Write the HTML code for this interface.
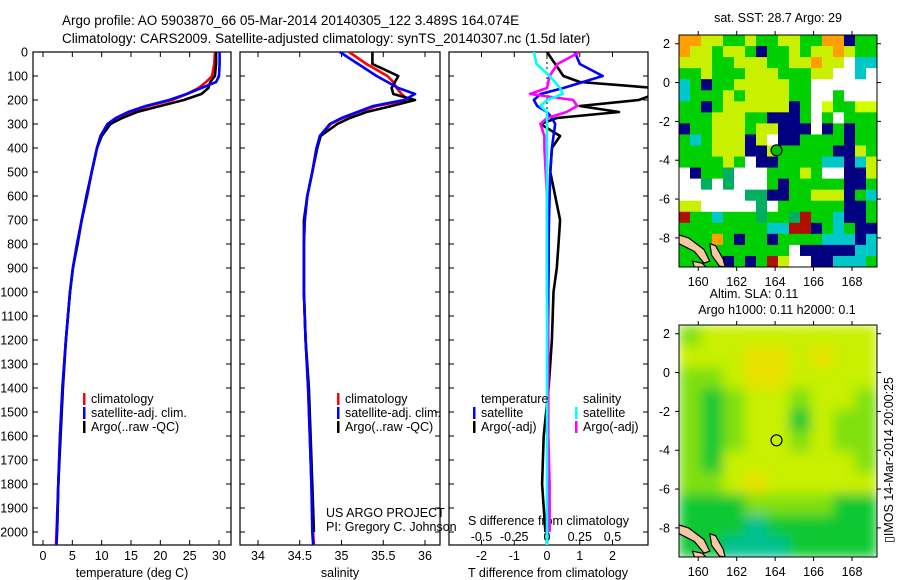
<!DOCTYPE html>
<html><head><meta charset="utf-8">
<style>
html,body{margin:0;padding:0;background:#fff;}
svg{display:block;font-family:"Liberation Sans",sans-serif;}
text{fill:#000;}
</style></head>
<body>
<svg id="fig" width="900" height="580" viewBox="0 0 900 580" xmlns="http://www.w3.org/2000/svg">
<defs><filter id="blur" x="0" y="0" width="1" height="1"><feGaussianBlur stdDeviation="6" edgeMode="duplicate"/></filter>
<clipPath id="clipP3"><rect x="449" y="52" width="199" height="493"/></clipPath>
<clipPath id="clipM1"><rect x="679" y="35" width="198" height="232"/></clipPath>
<clipPath id="clipM2"><rect x="679" y="325" width="198" height="232"/></clipPath>
</defs>
<text x="62" y="25" font-size="13.5">Argo profile: AO 5903870_66 05-Mar-2014 20140305_122 3.489S 164.074E</text>
<text x="62" y="43" font-size="13.5">Climatology: CARS2009. Satellite-adjusted climatology: synTS_20140307.nc (1.5d later)</text>
</svg>
<script>
// ---------- data ----------
const depths = [0,50,100,125,150,175,200,225,250,275,300,350,400,500,600,700,800,900,1000,1200,1400,1600,1800,2000,2054];
const tempClim = [29.3,29.2,28.8,27.8,26.5,24.5,22,18,14.8,12.6,11,9.8,9.2,8.3,7.5,6.6,5.8,5.1,4.6,3.9,3.3,2.9,2.6,2.3,2.2];
const tempSat = [30.1,30.1,30.0,29.5,27,24.5,21.5,17.5,14.5,12.4,11,9.8,9.2,8.3,7.5,6.6,5.8,5.1,4.6,3.9,3.3,2.9,2.6,2.4,2.3];
const tempArgo = [29.5,29.5,29.3,28.5,28.2,27,24,20,16,13.5,11.5,10,9.2,8.3,7.4,6.6,5.9,5.1,4.6,3.9,3.4,3.0,2.6,2.4,null];
const salClim = [35.09,35.3,35.55,35.62,35.66,35.72,35.8,35.42,35.2,35.02,34.87,34.75,34.7,34.65,34.59,34.56,34.55,34.55,34.55,34.57,34.6,34.62,34.64,34.66,34.67];
const salSat = [34.98,35.2,35.42,35.55,35.68,35.88,35.75,35.38,35.19,35.0,34.86,34.74,34.7,34.65,34.59,34.56,34.55,34.55,34.55,34.57,34.6,34.62,34.64,34.65,34.66];
const salArgo = [35.37,35.37,35.68,35.64,35.6,35.62,35.88,35.6,35.3,35.1,34.95,34.75,34.71,34.65,34.59,34.55,34.55,34.55,34.55,34.57,34.61,34.63,34.65,34.67,null];
const dTSat = [0.85,1.0,1.7,1.1,0.5,-0.2,-0.4,-0.3,0,0.15,0.25,0.2,0.15,0.1,0.08,0.06,0.05,0.05,0.04,0.03,0.02,0.01,0.01,0.0,0.0];
const dTArgo = [0,0.25,0.5,1.0,3.3,3.3,2.8,1.0,2.2,0.3,-0.2,0.4,0.15,0.1,0.25,0.4,0.35,0.3,0.2,0.15,0.05,-0.1,-0.15,-0.05,null];
const dSSat = [-0.1,-0.08,0.02,0.06,0.1,0.12,0,-0.05,0,0,0,0,0,0,0,0,0,0,0,0,0,0,0,0,0];
const dSArgo = [0.25,0.08,0.02,0.01,0,-0.13,0.2,0.23,0.15,0,-0.05,-0.02,-0.02,-0.01,0,0,0,0,0,0.01,0.01,0.01,0.02,0.02,null];
const depthTicks = [0,100,200,300,400,500,600,700,800,900,1000,1100,1200,1300,1400,1500,1600,1700,1800,1900,2000];
const tempTicks = [0,5,10,15,20,25,30];
const salTicks = [34,34.5,35,35.5,36];
const dTTicks = [-2,-1,0,1,2];
const dSTicks = [-0.5,-0.25,0,0.25,0.5];
const lonTicks = [160,162,164,166,168];
const latTicks = [2,0,-2,-4,-6,-8];
const argoLon = 164.074, argoLat = -3.489;
// SST map colour codes (rows north->south, 18 columns)
const sstRows = [
"ooyyggyggyyggoobgg","oyygyygbggygyyoygg","yyyggyyyggyyoyywcc","ggygggyyygggyywwcw",
"cgbggyyyyyggwwwwww","cgggygyyyyggwwgwww","ggbgyyyyyybgwlggll","gggyyyggbbbgwgwggg",
"bggyyygyybbbwbgbgg","gcgyyybywbbggggbgg","gggyyybbygggggbbyg","ggggygwbbggggccbcy",
"wbggGwwwgggygwwbby","wwGwGwwwgbgggggbbg","wwwwwwGGbbggyyybgc","yywwwwwGwggggggbbg",
"rggcgggGggGrggcbbg","ggggggggccrrbgcgbb","gggogbggbggggcccbc","ggggggggggwbbbbbccc",
"ggggbgbgrywwbbcccg"];
// SLA map values 0..4 (rows north->south, 9 columns)
const slaRows = [
[2,3,3,3,3,3,3,3,3],[3,3,3,4,4,3,4,3,3],[2,2,3,4,4,3,3,3,3],[2,1,2,3,3,2,3,3,2],
[2,1,2,3,3,1,3,2,2],[2,1,2,3,3,2,3,2,2],[2,1,3,3,3,3,3,3,2],[2,2,3,4,3,3,3,3,3],
[1,1,1,2,2,2,2,1,1],[1,1,1,0,1,1,1,1,1],[1,1,0,0,0,1,1,1,1]];

// ---------- helpers ----------
const NS="http://www.w3.org/2000/svg";
const svg=document.getElementById('fig');
const PB=545;
function mk(tag,attrs,parent){const e=document.createElementNS(NS,tag);for(const k in attrs)e.setAttribute(k,attrs[k]);(parent||svg).appendChild(e);return e;}
function txt(x,y,s,size,anchor,parent){const t=mk('text',{x:x,y:y,'font-size':size||12.5,'text-anchor':anchor||'start'},parent);t.textContent=s;return t;}
const yD=d=>52+d*0.24;
const xT=v=>43+v*(176/30);
const xS=v=>258+(v-34)*83.5;
const xDT=v=>547+v*32.75;
const xDS=v=>547+v*131;
const PANELS=[[33,231],[240,440],[449,648]];
function line(xs,ys,color,name,clip){
  let d='';let pen=false;
  for(let i=0;i<xs.length;i++){ if(ys[i]===null){pen=false;continue;} d+=(pen?'L':'M')+xs[i].toFixed(1)+','+yD(depths[i]).toFixed(1); pen=true;}
  const attrs={d:d,fill:'none',stroke:color,'stroke-width':2.6,'stroke-linejoin':'round'};
  if(clip)attrs['clip-path']=clip;
  const p=mk('path',attrs);
  
  
  return p;
}
function drawLine(vals,xf,color,name,clip){const xs=vals.map(v=>v===null?0:xf(v));return line(xs,vals,color,name,clip);}

// ---------- panels frames & ticks ----------
PANELS.forEach((p,i)=>{
  const r=mk('rect',{x:p[0],y:52,width:p[1]-p[0],height:PB-52,fill:'none',stroke:'#000','stroke-width':1.2});
  
  
  depthTicks.forEach(d=>{
    mk('line',{x1:p[0],x2:p[0]+5,y1:yD(d),y2:yD(d),stroke:'#000'});
    mk('line',{x1:p[1]-5,x2:p[1],y1:yD(d),y2:yD(d),stroke:'#000'});
  });
});
const dg=mk('g',{});


depthTicks.forEach(d=>{txt(28,yD(d)+4.5,String(d),12.5,'end',dg);});
function xticks(ticks,xf,labels,y,name){
  const g=mk('g',{});
  
  
  ticks.forEach((v,i)=>{const x=xf(v);
    mk('line',{x1:x,x2:x,y1:PB-5,y2:PB,stroke:'#000'});
    mk('line',{x1:x,x2:x,y1:52,y2:57,stroke:'#000'});
    txt(x,y,labels[i],12.5,'middle',g);});
}
xticks(tempTicks,xT,tempTicks.map(String),560,'temperature-axis-labels');
xticks(salTicks,xS,salTicks.map(String),560,'salinity-axis-labels');
xticks(dTTicks,xDT,dTTicks.map(String),560,'t-difference-axis-labels');
const sg=mk('g',{});


dSTicks.forEach(v=>txt(xDS(v),541,String(v),12.5,'middle',sg));
let t;
t=txt(132,577,'temperature (deg C)',12.5,'middle');


t=txt(340,577,'salinity',12.5,'middle');


t=txt(548,577,'T difference from climatology',12.5,'middle');


t=txt(468,525,'S difference from climatology',12.5,'start');



const zl=mk('line',{x1:xDT(0),x2:xDT(0),y1:52,y2:PB,stroke:'#000','stroke-dasharray':'2,3'});



// ---------- profile lines ----------
drawLine(tempClim,xT,'#ff0000','temperature-climatology-line');
drawLine(tempArgo,xT,'#000000','temperature-argo-line');
drawLine(tempSat,xT,'#0000ff','temperature-satellite-line');
drawLine(salClim,xS,'#ff0000','salinity-climatology-line');
drawLine(salArgo,xS,'#000000','salinity-argo-line');
drawLine(salSat,xS,'#0000ff','salinity-satellite-line');
drawLine(dTArgo,xDT,'#000000','t-diff-argo-line','url(#clipP3)');
drawLine(dTSat,xDT,'#0000ff','t-diff-satellite-line','url(#clipP3)');
drawLine(dSArgo,xDS,'#ff00ff','s-diff-argo-line','url(#clipP3)');
drawLine(dSSat,xDS,'#00ffff','s-diff-satellite-line','url(#clipP3)');

// ---------- legends ----------
function legend(x,y,color,label,name){
  const g=mk('g',{});
  
  
  if(color)mk('rect',{x:x,y:y-10,width:2.5,height:12,fill:color},g);
  txt(x+8,y,label,12.5,'start',g);
}
legend(83,403,'#ff0000','climatology','legend-temp-climatology');
legend(83,417,'#0000ff','satellite-adj. clim.','legend-temp-satellite');
legend(83,431,'#000000','Argo(..raw -QC)','legend-temp-argo');
legend(337,403,'#ff0000','climatology','legend-sal-climatology');
legend(337,417,'#0000ff','satellite-adj. clim.','legend-sal-satellite');
legend(337,431,'#000000','Argo(..raw -QC)','legend-sal-argo');
legend(473,403,null,'temperature','legend-temperature-heading');
legend(473,417,'#0000ff','satellite','legend-t-diff-satellite');
legend(473,431,'#000000','Argo(-adj)','legend-t-diff-argo');
legend(575,403,null,'salinity','legend-salinity-heading');
legend(575,417,'#00ffff','satellite','legend-s-diff-satellite');
legend(575,431,'#ff00ff','Argo(-adj)','legend-s-diff-argo');
t=txt(326,517,'US ARGO PROJECT',12.5,'start');


t=txt(326,531,'PI: Gregory C. Johnson',12.5,'start');



// ---------- maps ----------
const LON0=159,LON1=169.3;
const xL=lon=>679+(lon-LON0)*(198/(LON1-LON0));
function mapAxes(top,name,titleLines){
  const LAT0=2.45,LAT1=-9.5;
  const yL=lat=>top+(LAT0-lat)*(232/(LAT0-LAT1));
  const g=mk('g',{});
  
  
  mk('rect',{x:679,y:top,width:198,height:232,fill:'none',stroke:'#000','stroke-width':1},g);
  lonTicks.forEach(l=>{const x=xL(l);mk('line',{x1:x,x2:x,y1:top,y2:top-4,stroke:'#000'},g);mk('line',{x1:x,x2:x,y1:top+232,y2:top+236,stroke:'#000'},g);txt(x,top+251,String(l),12.5,'middle',g);});
  latTicks.forEach(l=>{const y=yL(l);mk('line',{x1:679,x2:675,y1:y,y2:y,stroke:'#000'},g);mk('line',{x1:877,x2:881,y1:y,y2:y,stroke:'#000'},g);txt(670,y+4.5,String(l),12.5,'end',g);});
  titleLines.forEach((s,i)=>{const tt=txt(s[1],s[2],s[0],12.5,'middle');
    
    });
  return yL;
}
const COL={o:'#ffa000',y:'#c8f000',g:'#00d000',G:'#00b060',b:'#000080',c:'#00c8c8',w:'#ffffff',r:'#b01000',l:'#d0ff00',s:'#f8c8a0'};
const mg=mk('g',{'clip-path':'url(#clipM1)'});


const cw=198/18,ch=232/sstRows.length;
sstRows.forEach((row,r)=>{for(let c=0;c<18;c++){
  mk('rect',{x:679+c*cw,y:35+r*ch,width:cw+0.5,height:ch+0.5,fill:COL[row[c]]},mg);}});
function land(top,parent){
  const s=232/11.95;
  const P1=[[159,-7.85],[159.5,-8.0],[160.3,-8.6],[160.6,-9.2],[160.3,-9.3],[159.8,-8.7],[159,-8.3]];
  const P2=[[160.6,-8.3],[160.9,-8.4],[161.3,-9.1],[161.4,-9.5],[161.1,-9.45],[160.7,-8.9]];
  const P3=[[159.7,-9.2],[160.2,-9.3],[160.4,-9.5],[159.8,-9.5]];
  [P1,P2,P3].forEach(P=>{mk('polygon',{points:P.map(p=>xL(p[0])+','+(top+(2.45-p[1])*s)).join(' '),fill:'#f8c8a0',stroke:'#000','stroke-width':1.2},parent);});
}
land(35,mg);
const yL1=mapAxes(35,'sst-map',[['sat. SST: 28.7 Argo: 29',778,22]]);
const c1=mk('circle',{cx:xL(argoLon),cy:yL1(argoLat),r:5.5,fill:'#00c000',stroke:'#000','stroke-width':1.2});


const SCOL=['#00c090','#10c830','#80e010','#c8f000','#e8e000'];
const sg2=mk('g',{'clip-path':'url(#clipM2)'});


const inner=mk('g',{filter:'url(#blur)'},sg2);
const sw=198/9,sh=232/slaRows.length;
mk('rect',{x:679,y:325,width:198,height:232,fill:SCOL[2]},inner);
slaRows.forEach((row,r)=>row.forEach((v,c)=>{mk('rect',{x:679+c*sw,y:325+r*sh,width:sw+0.5,height:sh+0.5,fill:SCOL[v]},inner);}));
land(325,sg2);
const yL2=mapAxes(325,'sla-map',[['Altim. SLA: 0.11',754,298],['Argo h1000: 0.11 h2000: 0.1',777,314]]);
const c2=mk('circle',{cx:xL(argoLon),cy:yL2(argoLat),r:5.5,fill:'none',stroke:'#000','stroke-width':1.2});


const imos=txt(0,0,'▯IMOS 14-Mar-2014 20:00:25',12.5,'middle');
imos.setAttribute('transform','translate(893,460) rotate(-90)');


</script>
</body></html>
